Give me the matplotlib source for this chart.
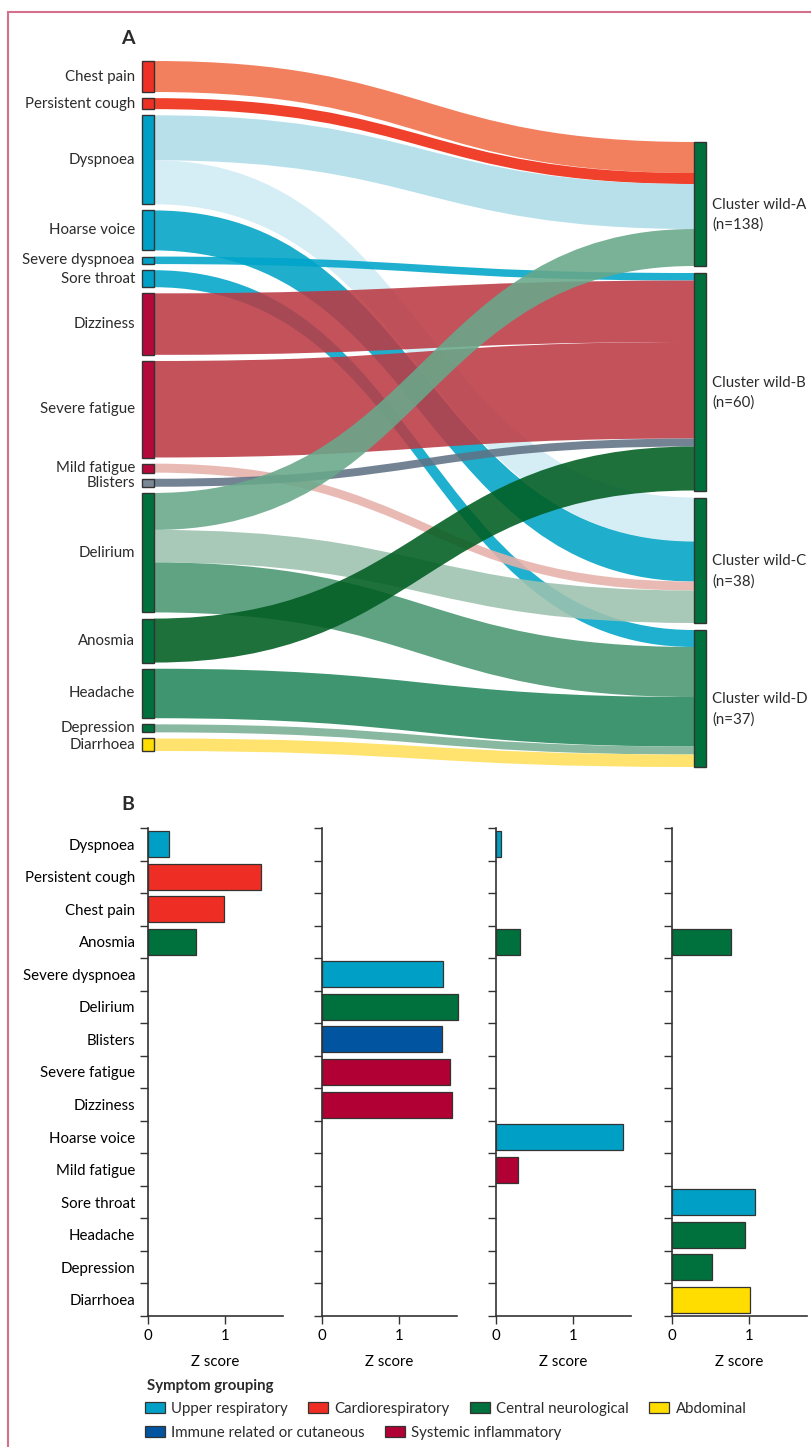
import numpy as np
import matplotlib
matplotlib.use('Agg')
import matplotlib.pyplot as plt
from matplotlib.path import Path
from matplotlib.patches import PathPatch, Rectangle, Patch
from matplotlib.colors import to_rgb

plt.rcParams['font.family'] = ['Lato', 'DejaVu Sans']
plt.rcParams['text.color'] = '#2b2b2b'

# ---- data ----
# sankey: symptoms (left), clusters (right)
symptoms = ['Chest pain', 'Persistent cough', 'Dyspnoea', 'Hoarse voice', 'Severe dyspnoea',
            'Sore throat', 'Dizziness', 'Severe fatigue', 'Mild fatigue', 'Blisters',
            'Delirium', 'Anosmia', 'Headache', 'Depression', 'Diarrhoea']
symptom_node_colour = ['#EE3124', '#EE3124', '#00A0C6', '#00A0C6', '#00A0C6',
                       '#00A0C6', '#B5093C', '#B5093C', '#B5093C', '#7A8896',
                       '#00703C', '#00703C', '#00703C', '#00703C', '#FFDD00']
clusters = ['Cluster wild-A', 'Cluster wild-B', 'Cluster wild-C', 'Cluster wild-D']
cluster_n = [138, 60, 38, 37]

flow_src = ['Chest pain', 'Persistent cough', 'Dyspnoea', 'Dyspnoea', 'Hoarse voice',
            'Severe dyspnoea', 'Sore throat', 'Dizziness', 'Severe fatigue', 'Mild fatigue',
            'Blisters', 'Delirium', 'Delirium', 'Delirium', 'Anosmia', 'Headache',
            'Depression', 'Diarrhoea']
flow_tgt = [0, 0, 0, 2, 2, 1, 3, 1, 1, 2, 1, 0, 2, 3, 1, 3, 3, 3]
flow_val = [31, 11, 45, 44, 40, 7.5, 17, 61.5, 96.5, 9, 8, 37, 32.5, 50, 44, 49.5, 8, 12.5]
flow_colour = ['#F3805E', '#EF412C', '#B8E0EC', '#D6EDF4', '#00AECB', '#00B0D0', '#10B0D0',
               '#C3525A', '#C3525A', '#E9BAB4', '#738394', '#7AB298', '#A9C9B8', '#5FA382',
               '#00703C', '#3F9570', '#88B8A0', '#FFE46E']

# bar panels: z scores per cluster
bar_order = ['Dyspnoea', 'Persistent cough', 'Chest pain', 'Anosmia', 'Severe dyspnoea',
             'Delirium', 'Blisters', 'Severe fatigue', 'Dizziness', 'Hoarse voice',
             'Mild fatigue', 'Sore throat', 'Headache', 'Depression', 'Diarrhoea']
z_a = [0.27, 1.47, 0.98, 0.62, 0, 0, 0, 0, 0, 0, 0, 0, 0, 0, 0]
z_b = [0, 0, 0, 0, 1.57, 1.76, 1.55, 1.66, 1.68, 0, 0, 0, 0, 0, 0]
z_c = [0.07, 0, 0, 0.31, 0, 0, 0, 0, 0, 1.64, 0.28, 0, 0, 0, 0]
z_d = [0, 0, 0, 0.77, 0, 0, 0, 0, 0, 0, 0, 1.07, 0.94, 0.52, 1.01]

groups = ['Upper respiratory', 'Cardiorespiratory', 'Central neurological', 'Abdominal',
          'Immune related or cutaneous', 'Systemic inflammatory']
group_colour = ['#00A0C6', '#EE2E24', '#00703C', '#FFDD00', '#0054A0', '#B10034']
symptom_group = {'Dyspnoea': 0, 'Severe dyspnoea': 0, 'Hoarse voice': 0, 'Sore throat': 0,
                 'Persistent cough': 1, 'Chest pain': 1,
                 'Anosmia': 2, 'Delirium': 2, 'Headache': 2, 'Depression': 2,
                 'Diarrhoea': 3, 'Blisters': 4,
                 'Severe fatigue': 5, 'Dizziness': 5, 'Mild fatigue': 5}

W, H = 811, 1447
FS = 10.8
fig = plt.figure(figsize=(W / 100, H / 100), dpi=100)
ax = fig.add_axes([0, 0, 1, 1])
ax.set_xlim(0, W)
ax.set_ylim(H, 0)
ax.axis('off')

# pink frame
fig.patches.append(Rectangle((8 / W, -0.05), 1.2, (H - 12.5) / H + 0.05, transform=fig.transFigure,
                             fill=False, edgecolor='#D4708C', lw=1.5))


def on_white(c, a=0.88):
    rgb = np.array(to_rgb(c))
    base = np.clip((rgb - (1 - a)) / a, 0, 1)
    return (*base, a)


# ---- panel A: sankey ----
left_x, right_x, node_w = 142, 694, 12
left_span, right_span = (61, 751), (142, 767)

src_idx = [symptoms.index(s) for s in flow_src]
left_size = np.zeros(len(symptoms))
right_size = np.zeros(len(clusters))
for s, t, v in zip(src_idx, flow_tgt, flow_val):
    left_size[s] += v
    right_size[t] += v

gap_l = (left_span[1] - left_span[0] - left_size.sum()) / (len(symptoms) - 1)
gap_r = (right_span[1] - right_span[0] - right_size.sum()) / (len(clusters) - 1)
left_top = left_span[0] + np.concatenate([[0], np.cumsum(left_size + gap_l)[:-1]])
right_top = right_span[0] + np.concatenate([[0], np.cumsum(right_size + gap_r)[:-1]])

out_off = left_top.copy()
in_off = right_top.copy()
x0, x1 = left_x + node_w, right_x
xm = (x0 + x1) / 2
for s, t, v, c in zip(src_idx, flow_tgt, flow_val, flow_colour):
    ys, yt = out_off[s], in_off[t]
    out_off[s] += v
    in_off[t] += v
    verts = [(x0, ys), (xm, ys), (xm, yt), (x1, yt), (x1, yt + v),
             (xm, yt + v), (xm, ys + v), (x0, ys + v), (x0, ys)]
    codes = [Path.MOVETO, Path.CURVE4, Path.CURVE4, Path.CURVE4, Path.LINETO,
             Path.CURVE4, Path.CURVE4, Path.CURVE4, Path.CLOSEPOLY]
    ax.add_patch(PathPatch(Path(verts, codes), facecolor=on_white(c), edgecolor='none', zorder=1))

for i, name in enumerate(symptoms):
    ax.add_patch(Rectangle((left_x, left_top[i]), node_w, left_size[i], facecolor=symptom_node_colour[i],
                           edgecolor='#333333', lw=1, zorder=3))
    ax.text(left_x - 7, left_top[i] + left_size[i] / 2, name, ha='right', va='center', fontsize=FS)

for j, name in enumerate(clusters):
    ax.add_patch(Rectangle((right_x, right_top[j]), node_w, right_size[j], facecolor='#00703C',
                           edgecolor='#333333', lw=1, zorder=3))
    ax.text(right_x + node_w + 6, right_top[j] + right_size[j] / 2 + 11,
            f'{name}\n(n={cluster_n[j]})', ha='left', va='center', fontsize=FS, linespacing=1.5)

ax.text(128, 38, 'A', ha='center', va='center', fontsize=14, fontweight='bold')
ax.text(128, 804, 'B', ha='center', va='center', fontsize=14, fontweight='bold')

# ---- panel B: z score bars ----
panel_left = [148, 322, 496, 672]
pw, ptop, pbot = 135, 828, 1316
y = np.arange(len(bar_order))
for k, zs in enumerate([z_a, z_b, z_c, z_d]):
    bax = fig.add_axes([panel_left[k] / W, 1 - pbot / H, pw / W, (pbot - ptop) / H])
    for yy, v, name in zip(y, zs, bar_order):
        if v > 0:
            bax.barh(yy, v, height=0.8, color=group_colour[symptom_group[name]],
                     edgecolor='#333333', lw=0.9, clip_on=False, zorder=3)
    bax.set_xlim(0, 1.75)
    bax.set_ylim(len(bar_order) - 0.5, -0.5)
    bax.set_yticks(y)
    bax.set_yticklabels(bar_order if k == 0 else [], fontsize=FS)
    bax.set_yticks(np.arange(len(bar_order) + 1) - 0.5, minor=True)
    bax.tick_params(axis='y', which='major', length=0, pad=9)
    bax.tick_params(axis='y', which='minor', length=6, width=1, color='#333333')
    bax.set_xticks([0, 1])
    bax.tick_params(axis='x', length=6, width=1, color='#333333', labelsize=FS, pad=3)
    for sp in ['top', 'right']:
        bax.spines[sp].set_visible(False)
    for sp in ['left', 'bottom']:
        bax.spines[sp].set_color('#333333')
        bax.spines[sp].set_linewidth(1.2)
    bax.set_xlabel('Z score', fontsize=FS, labelpad=9)

# legend
fig.text(147 / W, 1 - 1386 / H, 'Symptom grouping', ha='left', va='center', fontsize=FS,
         fontweight='bold')
rows = [[0, 1, 2, 3], [4, 5]]
row_y = [1409, 1433]
for r, idx in enumerate(rows):
    handles = [Patch(facecolor=group_colour[g], edgecolor='#333333', lw=0.9) for g in idx]
    fig.legend(handles, [groups[g] for g in idx], loc='center left',
               bbox_to_anchor=(145 / W, 1 - row_y[r] / H), ncol=len(idx), frameon=False,
               borderpad=0, borderaxespad=0, handlelength=1.3, handleheight=0.75,
               handletextpad=0.45, columnspacing=1.35, fontsize=FS)

fig.savefig('out.png', dpi=100)
